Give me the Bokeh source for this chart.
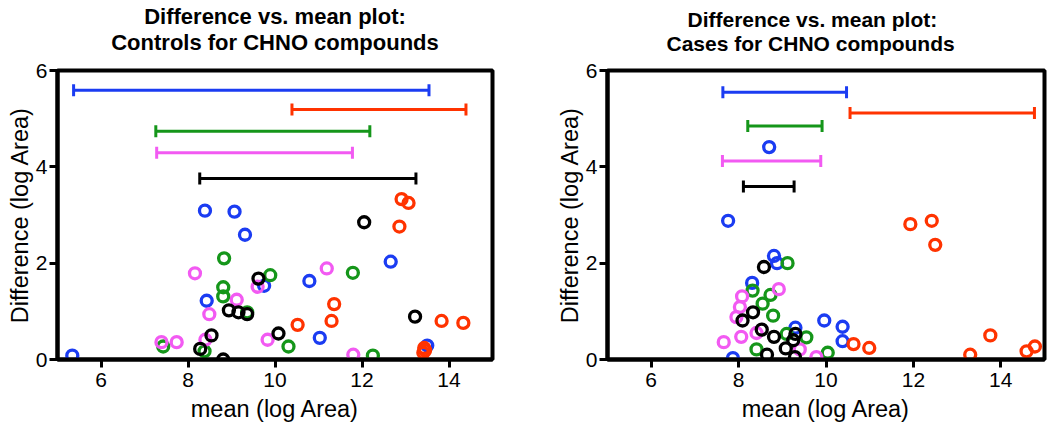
from bokeh.plotting import figure
from bokeh.models import Range1d, FixedTicker, Whisker, TeeHead, ColumnDataSource, Title
from bokeh.layouts import row
from bokeh.embed import file_html
from bokeh.resources import INLINE

# ---------------- data ----------------
series_names = ["blue", "green", "pink", "black", "red"]
series_colors = {"blue": "#1b3cf2", "red": "#ff3300", "green": "#15961a",
                 "pink": "#f25af2", "black": "#000000"}

# Controls panel
ctrl_blue_x = [5.34, 8.39, 9.07, 9.31, 8.43, 9.75, 10.79, 11.03, 12.66, 13.50]
ctrl_blue_y = [0.08, 3.09, 3.07, 2.59, 1.22, 1.53, 1.63, 0.45, 2.03, 0.29]
ctrl_red_x = [12.91, 13.07, 12.86, 11.36, 11.30, 10.52, 13.83, 14.33, 13.43, 13.41, 13.45]
ctrl_red_y = [3.33, 3.25, 2.76, 1.15, 0.80, 0.72, 0.80, 0.76, 0.24, 0.14, 0.19]
ctrl_green_x = [8.83, 8.81, 8.81, 9.89, 11.79, 9.36, 10.31, 12.25, 7.43, 8.38]
ctrl_green_y = [2.10, 1.50, 1.31, 1.75, 1.80, 0.98, 0.27, 0.08, 0.27, 0.17]
ctrl_black_x = [9.62, 12.05, 8.94, 9.16, 9.36, 8.54, 8.28, 8.81, 10.08, 13.22]
ctrl_black_y = [1.68, 2.85, 1.02, 0.98, 0.94, 0.50, 0.22, 0.00, 0.54, 0.89]
ctrl_pink_x = [8.16, 11.19, 9.12, 9.60, 8.49, 7.39, 7.74, 8.40, 9.83, 11.80]
ctrl_pink_y = [1.79, 1.89, 1.24, 1.51, 0.94, 0.36, 0.36, 0.41, 0.41, 0.10]

ctrl_bar_colors = ["blue", "red", "green", "pink", "black"]
ctrl_bar_y = [5.59, 5.19, 4.74, 4.29, 3.76]
ctrl_bar_lo = [5.37, 10.39, 7.26, 7.28, 8.27]
ctrl_bar_hi = [13.54, 14.39, 12.18, 11.78, 13.24]

# Cases panel
case_blue_x = [8.70, 7.76, 8.81, 8.88, 8.31, 9.96, 10.38, 10.38, 9.30, 7.87]
case_blue_y = [4.41, 2.88, 2.15, 2.00, 1.59, 0.81, 0.68, 0.38, 0.66, 0.03]
case_red_x = [11.93, 12.42, 12.50, 13.76, 13.30, 14.59, 14.78, 10.63, 10.99]
case_red_y = [2.81, 2.88, 2.38, 0.50, 0.10, 0.17, 0.27, 0.32, 0.24]
case_green_x = [9.12, 8.32, 8.73, 8.55, 8.79, 8.41, 9.55, 9.10, 10.04]
case_green_y = [2.00, 1.43, 1.34, 1.16, 0.91, 0.21, 0.46, 0.53, 0.14]
case_black_x = [8.58, 8.33, 8.09, 8.53, 8.81, 9.30, 9.25, 9.08, 8.65, 9.29]
case_black_y = [1.92, 0.98, 0.81, 0.62, 0.47, 0.53, 0.40, 0.23, 0.10, 0.05]
case_pink_x = [8.08, 8.03, 7.95, 8.92, 7.66, 8.06, 8.41, 9.40, 9.78]
case_pink_y = [1.31, 1.09, 0.88, 1.46, 0.36, 0.47, 0.55, 0.21, 0.05]

case_bar_colors = ["blue", "red", "green", "pink", "black"]
case_bar_y = [5.55, 5.12, 4.85, 4.12, 3.59]
case_bar_lo = [7.64, 10.55, 8.21, 7.63, 8.11]
case_bar_hi = [10.47, 14.77, 9.91, 9.88, 9.27]

x_ticks = [6, 8, 10, 12, 14]
y_ticks = [0, 2, 4, 6]
x_label = "mean (log Area)"
y_label = "Difference (log Area)"
ctrl_title = ["Difference vs. mean plot:", "Controls for CHNO compounds"]
case_title = ["Difference vs. mean plot:", "Cases for CHNO compounds"]

FONT = "Liberation Sans"


def make_panel(title_lines, pts, bar_colors, bar_y, bar_lo, bar_hi,
               width, mb_left, mb_right, title_size, title_align, title_offsets):
    p = figure(width=width, height=424,
               x_range=Range1d(5, 15), y_range=Range1d(0, 6),
               output_backend="svg", toolbar_location=None, title=None,
               min_border_left=mb_left, min_border_right=mb_right,
               min_border_top=70, min_border_bottom=64)
    p.xgrid.visible = False
    p.ygrid.visible = False
    p.outline_line_color = "black"
    p.outline_line_width = 4
    p.outline_line_alpha = 1.0
    p.background_fill_color = "white"
    p.border_fill_color = "white"

    p.xaxis.ticker = FixedTicker(ticks=x_ticks)
    p.yaxis.ticker = FixedTicker(ticks=y_ticks)
    for ax in (p.xaxis[0], p.yaxis[0]):
        ax.axis_line_width = 4
        ax.axis_line_color = "black"
        ax.major_tick_line_width = 3
        ax.major_tick_line_color = "black"
        ax.major_tick_out = 8
        ax.major_tick_in = 0
        ax.minor_tick_line_color = None
        ax.major_label_text_font = FONT
        ax.major_label_text_font_size = "21px"
        ax.major_label_text_color = "black"
        ax.axis_label_text_font = FONT
        ax.axis_label_text_font_size = "23.5px"
        ax.axis_label_text_font_style = "normal"
        ax.axis_label_text_color = "black"
    p.xaxis.axis_label = x_label
    p.yaxis.axis_label = y_label
    p.xaxis.major_label_standoff = 5
    p.xaxis.axis_label_standoff = 6
    p.yaxis.major_label_standoff = 2
    p.yaxis.axis_label_standoff = 0

    # two title lines; the first one added sits next to the frame
    second = Title(text=title_lines[1], align=title_align, offset=title_offsets[1],
                   text_font=FONT, text_font_size=title_size, text_font_style="bold",
                   text_color="black", standoff=31)
    first = Title(text=title_lines[0], align=title_align, offset=title_offsets[0],
                  text_font=FONT, text_font_size=title_size, text_font_style="bold",
                  text_color="black", standoff=-33)
    p.add_layout(second, "above")
    p.add_layout(first, "above")

    # range bars
    for c, yb, lo, hi in zip(bar_colors, bar_y, bar_lo, bar_hi):
        src = ColumnDataSource(dict(base=[yb], lower=[lo], upper=[hi]))
        col = series_colors[c]
        w = Whisker(source=src, base="base", lower="lower", upper="upper",
                    dimension="width", line_color=col, line_width=3,
                    lower_head=TeeHead(size=12, line_color=col, line_width=3),
                    upper_head=TeeHead(size=12, line_color=col, line_width=3))
        p.add_layout(w)

    # points
    for name in series_names:
        xs, ys = pts[name]
        p.scatter(xs, ys, marker="circle", size=11, fill_color=None,
                  line_color=series_colors[name], line_width=3.3)
    return p


ctrl_pts = {"blue": (ctrl_blue_x, ctrl_blue_y), "red": (ctrl_red_x, ctrl_red_y),
            "green": (ctrl_green_x, ctrl_green_y), "black": (ctrl_black_x, ctrl_black_y),
            "pink": (ctrl_pink_x, ctrl_pink_y)}
case_pts = {"blue": (case_blue_x, case_blue_y), "red": (case_red_x, case_red_y),
            "green": (case_green_x, case_green_y), "black": (case_black_x, case_black_y),
            "pink": (case_pink_x, case_pink_y)}

p1 = make_panel(ctrl_title, ctrl_pts, ctrl_bar_colors, ctrl_bar_y, ctrl_bar_lo, ctrl_bar_hi,
                width=530, mb_left=57, mb_right=38, title_size="22px",
                title_align="center", title_offsets=[0, 0])
p2 = make_panel(case_title, case_pts, case_bar_colors, case_bar_y, case_bar_lo, case_bar_hi,
                width=518, mb_left=77, mb_right=4, title_size="21px",
                title_align="left", title_offsets=[80, 59])

layout = row(p1, p2)
open("out.html", "w").write(file_html(layout, INLINE))
